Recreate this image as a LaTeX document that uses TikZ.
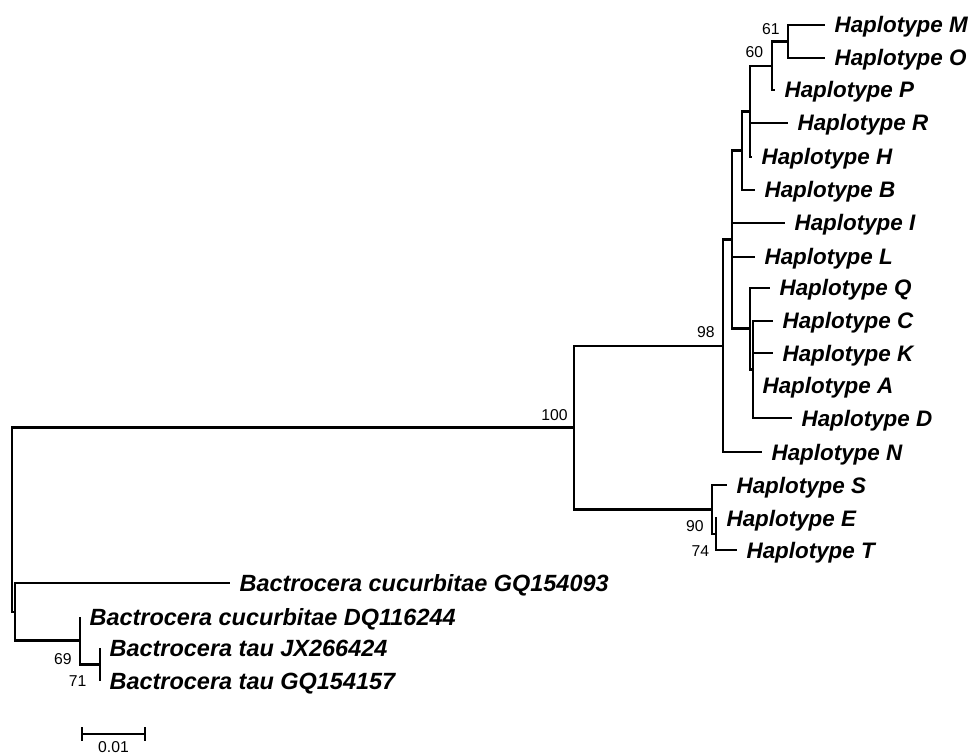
\documentclass[tikz,border=0pt]{standalone}
\usepackage{fontspec}
\setmainfont{Liberation Sans}
\usetikzlibrary{positioning}

\begin{document}
\begin{tikzpicture}[x=0.75pt,y=-0.75pt,
    branch/.style={line width=2.1pt},
    taxon/.style={font=\fontsize{16.8}{20}\selectfont\bfseries\itshape,
      inner sep=0pt, text height=12pt, text depth=0pt},
    outtaxon/.style={taxon, font=\fontsize{17.6}{20}\selectfont\bfseries\itshape},
    boot/.style={font=\fontsize{11.8}{13}\selectfont,
      inner sep=0pt, text height=8.4pt, text depth=0pt}]
  \useasboundingbox (0,0) rectangle (972,756);
  % internal nodes
  \coordinate (root) at (12,519.8);
  \coordinate (n100) at (574,427.7);
  \coordinate (n98) at (723,345.9);
  \coordinate (nX) at (732,239.8);
  \coordinate (nU) at (742,150.8);
  \coordinate (nRH) at (750,111.5);
  \coordinate (nP) at (772,66);
  \coordinate (nMO) at (788,41.5);
  \coordinate (nY) at (750,328.8);
  \coordinate (nZ) at (753,369.5);
  \coordinate (n90) at (712,509.5);
  \coordinate (n74) at (716,534);
  \coordinate (nout) at (15,611.9);
  \coordinate (n69) at (80,640.8);
  \coordinate (n71) at (100,664.5);
  % tips
  \coordinate (tM) at (825,25);
  \coordinate (tO) at (825,58);
  \coordinate (tP) at (775,90);
  \coordinate (tR) at (788,123);
  \coordinate (tH) at (752,157);
  \coordinate (tB) at (755,190);
  \coordinate (tI) at (785,223);
  \coordinate (tL) at (755,257);
  \coordinate (tQ) at (770,288);
  \coordinate (tC) at (773,321);
  \coordinate (tK) at (773,353);
  \coordinate (tA) at (753,385);
  \coordinate (tD) at (792,418);
  \coordinate (tN) at (762,452);
  \coordinate (tS) at (727,485);
  \coordinate (tE) at (717,518);
  \coordinate (tT) at (737,550);
  \coordinate (tGQa) at (230,583);
  \coordinate (tDQ) at (80,617);
  \coordinate (tJX) at (100,648);
  \coordinate (tGQb) at (100,681);

  \path[branch,draw]
    (root) |- (n100)  (root) |- (nout)
    (n100) |- (n98)   (n100) |- (n90)
    (n98) |- (nX)     (n98) |- (tN)
    (nX) |- (nU)      (nX) |- (tI)   (nX) |- (tL)   (nX) |- (nY)
    (nU) |- (nRH)     (nU) |- (tB)
    (nRH) |- (nP)     (nRH) |- (tR)  (nRH) |- (tH)
    (nP) |- (nMO)     (nP) |- (tP)
    (nMO) |- (tM)     (nMO) |- (tO)
    (nY) |- (tQ)      (nY) |- (nZ)
    (nZ) |- (tC)      (nZ) |- (tK)   (nZ) |- (tA)   (nZ) |- (tD)
    (n90) |- (tS)     (n90) |- (n74)
    (n74) |- (tE)     (n74) |- (tT)
    (nout) |- (tGQa)  (nout) |- (n69)
    (n69) |- (tDQ)    (n69) |- (n71)
    (n71) |- (tJX)    (n71) |- (tGQb);

  % taxa
  \node[taxon, right=7pt of tM] (lM) {Haplotype M};
  \node[taxon, right=7pt of tO] (lO) {Haplotype O};
  \node[taxon, right=7pt of tP] (lP) {Haplotype P};
  \node[taxon, right=7pt of tR] (lR) {Haplotype R};
  \node[taxon, right=7pt of tH] (lH) {Haplotype H};
  \node[taxon, right=7pt of tB] (lB) {Haplotype B};
  \node[taxon, right=7pt of tI] (lI) {Haplotype I};
  \node[taxon, right=7pt of tL] (lL) {Haplotype L};
  \node[taxon, right=7pt of tQ] (lQ) {Haplotype Q};
  \node[taxon, right=7pt of tC] (lC) {Haplotype C};
  \node[taxon, right=7pt of tK] (lK) {Haplotype K};
  \node[taxon, right=7pt of tA] (lA) {Haplotype A};
  \node[taxon, right=7pt of tD] (lD) {Haplotype D};
  \node[taxon, right=7pt of tN] (lN) {Haplotype N};
  \node[taxon, right=7pt of tS] (lS) {Haplotype S};
  \node[taxon, right=7pt of tE] (lE) {Haplotype E};
  \node[taxon, right=7pt of tT] (lT) {Haplotype T};
  \node[outtaxon, right=7pt of tGQa] (lGQa) {Bactrocera cucurbitae GQ154093};
  \node[outtaxon, right=7pt of tDQ] (lDQ) {Bactrocera cucurbitae DQ116244};
  \node[outtaxon, right=7pt of tJX] (lJX) {Bactrocera tau JX266424};
  \node[outtaxon, right=7pt of tGQb] (lGQb) {Bactrocera tau GQ154157};

  % bootstrap values
  \node[boot, above left=5pt and 6pt of nMO] (b61) {61};
  \node[boot, above left=6pt and 6.5pt of nP] (b60) {60};
  \node[boot, above left=6pt and 6pt of n98] (b98) {98};
  \node[boot, above left=5pt and 4.5pt of n100] (b100) {100};
  \node[boot, below left=8pt and 6pt of n90] (b90) {90};
  \node[boot, below left=8pt and 5pt of n74] (b74) {74};
  \node[boot, below left=9pt and 6pt of n69] (b69) {69};
  \node[boot, below left=8pt and 10pt of n71] (b71) {71};

  % scale bar
  \coordinate (s0) at (81,734);
  \coordinate (s1) at (146,734);
  \coordinate (smid) at (113.5,734);
  \draw[line width=1.6pt, |-|] (s0) -- (s1);
  \node[boot, below=5.5pt of smid] (scale) {0.01};
\end{tikzpicture}
\end{document}
